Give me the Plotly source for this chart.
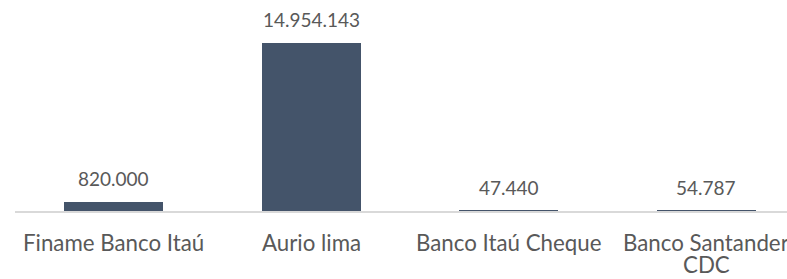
import plotly.graph_objects as go

categories = ["Finame Banco Itaú", "Aurio lima", "Banco Itaú Cheque", "Banco Santander\nCDC"]
values = [820000, 14954143, 47440, 54787]
value_labels = ["820.000", "14.954.143", "47.440", "54.787"]

bar_color = "#44546A"
text_color = "#595959"
font_family = "Lato, 'Open Sans', sans-serif"

fig = go.Figure()
fig.add_trace(go.Bar(
    x=list(range(len(categories))),
    y=values,
    width=0.5,
    marker=dict(color=bar_color, line=dict(width=0)),
    hoverinfo="skip",
))

# value labels above bars
for i, (v, lab) in enumerate(zip(values, value_labels)):
    fig.add_annotation(
        x=i, y=v, text=lab, showarrow=False,
        yanchor="middle", yshift=23,
        font=dict(family=font_family, size=19, color=text_color),
    )

# category labels below axis (tight line spacing like the original)
for i, cat in enumerate(categories):
    for j, line in enumerate(cat.split("\n")):
        fig.add_annotation(
            x=i, y=0, text=line, showarrow=False,
            yanchor="middle", yshift=-31 - 22 * j,
            font=dict(family=font_family, size=22.3, color=text_color),
        )

fig.update_layout(
    width=787, height=279,
    margin=dict(l=15, r=0, t=10, b=68, autoexpand=False),
    paper_bgcolor="white", plot_bgcolor="white",
    showlegend=False,
    bargap=0,
)
fig.update_xaxes(
    range=[-0.5, 3.409],
    automargin=False,
    showgrid=False, zeroline=False,
    showline=True, linecolor="#D9D9D9", linewidth=1.5,
    ticks="", showticklabels=False,
)
fig.update_yaxes(
    range=[0, 17.89e6],
    automargin=False,
    showgrid=False, zeroline=False, showline=False,
    showticklabels=False, ticks="",
)

fig.write_html(
    "out.html",
    config={"displayModeBar": False},
    post_script="document.body.style.margin='0';document.body.style.overflow='hidden';",
)
